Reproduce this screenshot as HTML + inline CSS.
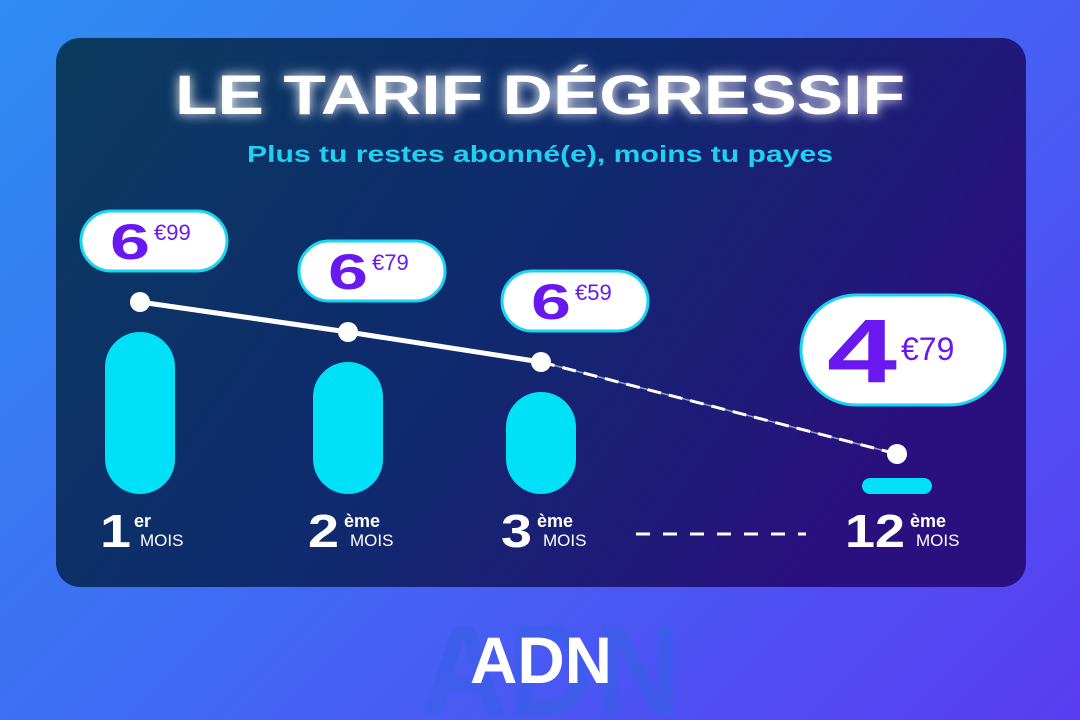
<!DOCTYPE html>
<html><head><meta charset="utf-8">
<style>
html,body{margin:0;padding:0;width:1080px;height:720px;overflow:hidden}
body{background:linear-gradient(135deg,#2e8cf2 0%,#3f6cf4 45%,#5a3cf2 100%);font-family:"Liberation Sans",sans-serif}
svg{position:absolute;left:0;top:0}
</style></head>
<body>
<svg id="chart" width="1080" height="720">
<defs>
<linearGradient id="card" x1="0" y1="0" x2="1" y2="0.4">
<stop offset="0" stop-color="#0a3a5e"/><stop offset="0.55" stop-color="#0f2a6e"/><stop offset="1" stop-color="#2a107e"/>
</linearGradient>
<filter id="glow" x="-20%" y="-50%" width="140%" height="200%"><feGaussianBlur stdDeviation="6" result="b"/><feMerge><feMergeNode in="b"/><feMergeNode in="SourceGraphic"/></feMerge></filter>
</defs>
<rect x="56" y="38" width="970" height="549" rx="24" fill="url(#card)"/>
<text x="175" y="114" textLength="730" lengthAdjust="spacingAndGlyphs" font-size="56" font-weight="bold" fill="#fff" filter="url(#glow)">LE TARIF DÉGRESSIF</text>
<text x="247" y="162" textLength="586" lengthAdjust="spacingAndGlyphs" font-size="23" font-weight="bold" fill="#1fd0f2">Plus tu restes abonné(e), moins tu payes</text>
<g>
<text x="420" y="715" textLength="262" lengthAdjust="spacingAndGlyphs" font-size="130" font-weight="bold" fill="#3a5fe8" opacity="0.7">ADN</text>
<text x="470" y="683" textLength="142" lengthAdjust="spacingAndGlyphs" font-size="66" font-weight="bold" fill="#fff">ADN</text>
</g>
<g id="marks"></g>
</svg>
<script>
const months = ["1","2","3","12"];
const suffixes = ["er","ème","ème","ème"];
const prices = [6.99, 6.79, 6.59, 4.79];
const euros = ["6","6","6","4"];
const cents = ["€99","€79","€59","€79"];

const NS="http://www.w3.org/2000/svg";
const g=document.getElementById('marks');
function xScale(i){return [140,348,541,897][i];}
function yScale(p){ // piecewise (axis break between 3rd and 12th month)
  if(p>=6.59) return 362-(p-6.59)*150;
  return 454-(p-4.79)*(92/1.8);
}
function mk(tag,attrs,parent){const e=document.createElementNS(NS,tag);for(const k in attrs)e.setAttribute(k,attrs[k]);(parent||g).appendChild(e);return e;}
const baseY=494;
prices.forEach((p,i)=>{
  const x=xScale(i), top=yScale(p)+30;
  const h=Math.max(baseY-top,16);
  const bar=mk('rect',{x:x-35,y:baseY-h,width:70,height:h,rx:Math.min(35,h/2),fill:'#00e0f6'});
  
  
});
for(let i=0;i<prices.length-1;i++){
  const dashed=i===prices.length-2;
  if(dashed){
    const bl=mk('line',{x1:xScale(i),y1:yScale(prices[i]),x2:xScale(i+1),y2:yScale(prices[i+1]),stroke:'#8a9ac8','stroke-width':1.5});
    
    
  }
  const l=mk('line',{x1:xScale(i),y1:yScale(prices[i]),x2:xScale(i+1),y2:yScale(prices[i+1]),stroke:'#fff','stroke-width':dashed?3:5});
  if(dashed){l.setAttribute('stroke-dasharray','14 8');}
  
  
}
prices.forEach((p,i)=>{
  const c=mk('circle',{cx:xScale(i),cy:yScale(p),r:10,fill:'#fff'});
  
  
  const big=i===prices.length-1;
  const w=big?204:146,h=big?110:60;
  const cx=xScale(i)+(big?6:14+(i*10));
  const cy=yScale(p)-(big?104:61);
  const bg=mk('g',{});
  
  
  mk('rect',{x:cx-w/2,y:cy-h/2,width:w,height:h,rx:h/2,fill:'#fff',stroke:'#18d6f2','stroke-width':3},bg);
  const dw=big?70:40;
  const t=mk('text',{x:cx-(big?6:4)-dw,y:cy+(big?32:18),textLength:dw,lengthAdjust:'spacingAndGlyphs','font-size':big?90:50,'font-weight':'bold',fill:'#6a18f0'},bg);
  t.textContent=euros[i];
  const t2=mk('text',{x:cx-(big?2:0),y:cy+(big?10:-1),'font-size':big?32:22,fill:'#6a18f0'},bg);
  t2.textContent=cents[i];
  const lab=mk('g',{});
  
  
  const two=months[i].length>1;
  const lx=xScale(i)-(two?52:40);
  const nw=two?60:31;
  const n=mk('text',{x:lx,y:547,textLength:nw,lengthAdjust:'spacingAndGlyphs','font-size':46,'font-weight':'bold',fill:'#fff'},lab);
  n.textContent=months[i];
  const nx=lx+nw+3;
  const s=mk('text',{x:nx+(i===0?0:2),y:527,'font-size':18,'font-weight':'bold',fill:'#fff'},lab);
  s.textContent=suffixes[i];
  const m=mk('text',{x:nx+(i===0?6:8),y:546,'font-size':17,fill:'#fff'},lab);
  m.textContent='MOIS';
});
const d=mk('line',{x1:636,y1:534,x2:806,y2:534,stroke:'#fff','stroke-width':3,'stroke-dasharray':'14 13'});


</script>
</body></html>
